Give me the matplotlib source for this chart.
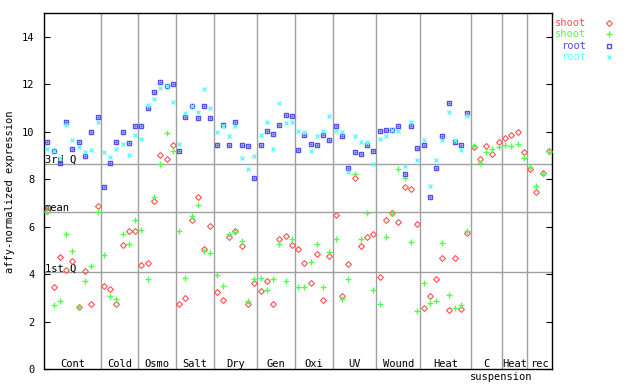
import numpy as np
from matplotlib import pyplot as plt

plt.rcParams['font.family'] = ['DejaVu Sans Mono']
plt.rcParams['font.size'] = 7.5

# groups (label, number of samples)
groups = ['Cont', 'Cold', 'Osmo', 'Salt', 'Dry', 'Gen', 'Oxi', 'UV', 'Wound', 'Heat', 'C', 'Heat', 'rec']
counts = [9, 6, 6, 6, 7, 6, 6, 7, 7, 8, 5, 4, 4]

# shoot (red diamonds)
shoot_red = [6.65, 3.45, 4.73, 4.17, 4.56, 2.61, 4.14, 2.73, 6.88,
             3.49, 3.38, 2.73, 5.23, 5.82, 5.81,
             4.38, 4.46, 7.11, 9.05, 8.88, 9.43,
             2.73, 3.02, 6.27, 7.28, 5.05, 6.02,
             3.24, 2.90, 5.58, 5.84, 5.18, 2.73, 3.62,
             3.28, 3.74, 2.77, 5.47, 5.60, 5.22,
             5.05, 4.46, 3.62, 4.84, 2.90, 4.76,
             6.52, 3.07, 4.42, 8.04, 5.18, 5.56, 5.68,
             3.87, 6.27, 6.57, 6.19, 7.66, 7.58, 6.11,
             2.57, 3.07, 3.79, 4.71, 2.48, 4.67, 2.52, 5.76,
             9.35, 8.88, 9.39, 9.09, 9.56,
             9.73, 9.89, 9.98, 9.14,
             8.42, 7.45, 8.29, 9.18]
# shoot (green plus)
shoot_green = [6.61, 2.69, 2.89, 5.72, 4.97, 2.61, 3.70, 4.35, 6.61,
               4.81, 3.07, 2.95, 5.68, 5.30, 6.31,
               5.89, 3.79, 7.24, 8.67, 9.94, 9.18,
               5.81, 3.83, 6.44, 6.94, 4.97, 4.88,
               3.96, 3.53, 5.72, 5.77, 5.39, 2.86, 3.79,
               3.83, 3.32, 3.79, 5.30, 3.74, 5.47,
               3.45, 3.45, 4.54, 5.30, 3.45, 4.93,
               5.51, 2.95, 3.79, 8.21, 5.47, 6.57, 3.32,
               2.74, 5.56, 6.57, 8.46, 8.08, 5.35, 2.44,
               3.62, 2.78, 2.86, 5.34, 3.15, 2.60, 2.69, 5.81,
               9.39, 8.71, 9.14, 9.30, 9.35,
               9.43, 9.39, 9.51, 8.92,
               8.54, 7.74, 8.21, 9.14]
# root (blue squares)
root_blue = [9.57, 9.19, 8.68, 10.40, 9.30, 9.56, 8.97, 9.99, 10.65,
             7.67, 8.71, 9.56, 9.99, 9.53, 10.23,
             10.27, 10.99, 11.70, 12.12, 11.95, 12.04,
             9.18, 10.65, 11.11, 10.60, 11.11, 10.57,
             9.43, 10.31, 9.43, 10.44, 9.47, 9.39, 8.04,
             9.43, 10.02, 9.93, 10.31, 10.73, 10.69,
             9.22, 9.89, 9.51, 9.43, 9.89, 9.68,
             10.23, 9.85, 8.50, 9.14, 9.09, 9.47, 9.18,
             10.06, 10.10, 10.10, 10.23, 8.21, 10.23, 9.34,
             9.43, 7.24, 8.50, 9.85, 11.20, 9.56, 9.43, 10.78] + [np.nan] * 13
# root (cyan x)
root_cyan = [9.28, 9.19, 8.90, 10.28, 9.64, 9.35, 9.17, 9.23, 10.44,
             9.15, 8.94, 9.28, 9.51, 9.01, 9.89,
             9.71, 11.15, 11.37, 11.87, 11.95, 11.28,
             9.51, 10.78, 11.11, 10.86, 11.79, 10.99,
             9.98, 10.23, 9.85, 10.23, 8.92, 8.46, 8.97,
             9.89, 10.44, 9.30, 11.24, 10.36, 10.44,
             10.06, 9.98, 9.18, 9.85, 10.06, 10.69,
             10.06, 9.98, 8.33, 9.81, 9.56, 9.56, 8.63,
             9.72, 9.85, 10.10, 10.06, 8.55, 10.44, 8.80,
             9.64, 7.74, 8.80, 9.64, 10.86, 9.68, 9.26, 10.69] + [np.nan] * 13

# reference lines
q1, mean, q3 = 4.08, 6.61, 8.67

red = '#ff5050'
green = '#50ff50'
blue = '#5050f0'
cyan = '#60ffff'
grey = '#a0a0a0'

fig = plt.figure(figsize=(6.4, 3.84), dpi=100)
ax = fig.add_axes([0.0692, 0.0383, 0.7933, 0.9271])

n = len(shoot_red)
x = np.arange(n)
ax.set_xlim(-0.5, n - 0.5)
ax.set_ylim(0, 15)

# separators between groups
edges = np.cumsum(counts)
for e in edges[:-1]:
    ax.axvline(e - 0.5, color=grey, lw=1, zorder=1)
for v, lab in [(q3, '3rd Q'), (mean, 'mean'), (q1, '1st Q')]:
    ax.axhline(v, color=grey, lw=1, zorder=1)
    ax.text(-0.45, v + 0.17, lab, ha='left', va='center')

m_red = dict(marker='D', ms=3.0, mfc='none', mec=red, mew=0.8)
m_green = dict(marker='+', ms=4.2, color=green, mew=1)
m_blue = dict(marker='s', ms=3.4, mfc='none', mec=blue, mew=1)
m_cyan = dict(marker='x', ms=3.4, color=cyan, mew=1)

ax.plot(x, shoot_red, ls='none', zorder=3, **m_red)
ax.plot(x, shoot_green, ls='none', zorder=3, **m_green)
ax.plot(x, root_blue, ls='none', zorder=3, **m_blue)
ax.plot(x, root_blue, '.', ms=1.2, color=blue, zorder=3)
ax.plot(x, root_cyan, ls='none', zorder=3, **m_cyan)

# group labels
starts = edges - np.array(counts)
for s, c, g in zip(starts, counts, groups):
    ax.text(s + (c - 1) / 2, 0.22, g, ha='center', va='center')
ax.text(72.4, -0.32, 'suspension', ha='center', va='center', clip_on=False)

ax.set_xticks([])
ax.set_yticks(np.arange(0, 15, 2))
ax.tick_params(axis='y', direction='in', length=4, pad=7, right=True, labelsize=7.5)
for sp in ax.spines.values():
    sp.set_linewidth(1)
ax.set_ylabel('affy-normalized expression', labelpad=5)

# legend outside right
leg = [('shoot', red, m_red), ('shoot', green, m_green),
       ('root', blue, m_blue), ('root', cyan, m_cyan)]
for i, (lab, col, kw) in enumerate(leg):
    yy = 0.940 - i * 0.0295
    fig.text(0.9156, yy, lab, color=col, ha='right', va='center')
    ax.plot([0.9516], [yy], transform=fig.transFigure, clip_on=False, ls='none', **kw)

plt.savefig('out.png', dpi=100)
